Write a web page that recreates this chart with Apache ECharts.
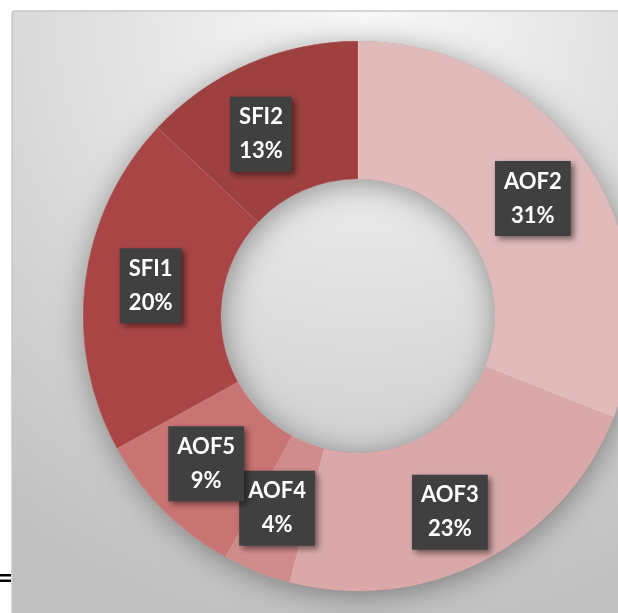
<!DOCTYPE html>
<html>
<head>
<meta charset="utf-8">
<script src="https://cdn.jsdelivr.net/npm/echarts@6/dist/echarts.min.js"></script>
<style>
html,body{margin:0;padding:0;background:#fff;}
#chart{width:618px;height:613px;}
</style>
</head>
<body>
<div id="chart"></div>
<script>
var categories = ['AOF2', 'AOF3', 'AOF4', 'AOF5', 'SFI1', 'SFI2'];
var values = [31, 23, 4, 9, 20, 13];
var colors = ['#E1BABA', '#DAA8A8', '#D08C8B', '#C87472', '#A94545', '#9E403F'];
// label nudges (style only) to follow the reference's label placement
var labelNudge = [[2, 0], [-3, 10], [-4, -2], [-4, 0], [0, -4], [-14, 10]];

var chart = echarts.init(document.getElementById('chart'), null, {renderer: 'canvas'});
var center = [358, 316];
var radius = [137, 275];

var option = {
  animation: false,
  backgroundColor: '#ffffff',
  graphic: [
    {
      type: 'rect', z: -10, silent: true,
      shape: {x: 12, y: 11, width: 640, height: 640, r: 3},
      style: {
        fill: {
          type: 'radial', x: 0.55, y: 0.02, r: 0.95,
          colorStops: [{offset: 0, color: '#fafafa'}, {offset: 1, color: '#c0c0c0'}]
        },
        stroke: '#c9c9c9', lineWidth: 1.5
      }
    },
    {type: 'rect', silent: true, shape: {x: 0, y: 574, width: 11, height: 2.5}, style: {fill: '#000'}},
    {type: 'rect', silent: true, shape: {x: 0, y: 579.5, width: 11, height: 2.5}, style: {fill: '#000'}}
  ],
  series: [
    {
      type: 'pie', silent: true, z: 1,
      center: center, radius: radius,
      label: {show: false}, labelLine: {show: false},
      itemStyle: {
        color: '#b07070',
        shadowBlur: 30, shadowColor: 'rgba(0,0,0,0.38)', shadowOffsetX: 2, shadowOffsetY: 4
      },
      data: [{value: 1, name: ''}]
    },
    {
      type: 'pie', z: 2,
      center: center, radius: radius,
      startAngle: 90, clockwise: true,
      avoidLabelOverlap: false,
      labelLayout: {hideOverlap: false},
      minShowLabelAngle: 0,
      itemStyle: {borderColor: 'rgba(255,255,255,0.12)', borderWidth: 1},
      label: {
        show: true, position: 'inside',
        formatter: function (p) { return p.name + '\n' + p.value + '%'; },
        color: '#ffffff', fontFamily: 'Lato', fontWeight: 'bold', fontSize: 22, lineHeight: 34,
        backgroundColor: '#404040',
        padding: [5, 9, 2, 9],
        shadowBlur: 6, shadowColor: 'rgba(0,0,0,0.5)', shadowOffsetX: 3, shadowOffsetY: 3
      },
      labelLine: {show: false},
      emphasis: {disabled: true},
      data: categories.map(function (c, i) {
        return {
          name: c, value: values[i], itemStyle: {color: colors[i]},
          label: {offset: labelNudge[i]}
        };
      })
    }
  ]
};
chart.setOption(option);
</script>
</body>
</html>
